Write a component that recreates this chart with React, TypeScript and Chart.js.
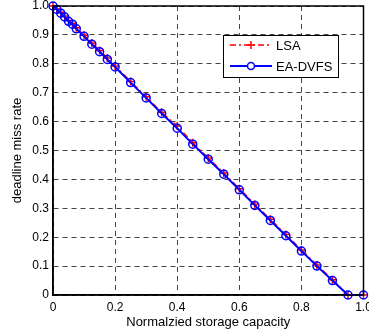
import React, { useEffect, useRef } from "react";
import { Chart, registerables } from "chart.js";

Chart.register(...registerables);

const xValues = [0, 0.0125, 0.025, 0.0375, 0.05, 0.0625, 0.075, 0.1, 0.125, 0.15, 0.175, 0.2, 0.25, 0.3, 0.35, 0.4, 0.45, 0.5, 0.55, 0.6, 0.65, 0.7, 0.75, 0.8, 0.85, 0.9, 0.95, 1.0];
const eaDvfs = [1.0, 0.988, 0.975, 0.962, 0.947, 0.937, 0.921, 0.895, 0.868, 0.842, 0.815, 0.789, 0.735, 0.682, 0.628, 0.577, 0.522, 0.47, 0.418, 0.364, 0.31, 0.258, 0.205, 0.152, 0.1, 0.05, 0, 0];
const lsa = [1.0, 0.99, 0.978, 0.965, 0.95, 0.94, 0.925, 0.899, 0.872, 0.846, 0.82, 0.792, 0.739, 0.686, 0.632, 0.585, 0.527, 0.474, 0.422, 0.368, 0.314, 0.262, 0.209, 0.156, 0.104, 0.053, 0, 0];
const seriesNames = ["LSA", "EA-DVFS"];
const xTitle = "Normalzied storage capacity";
const yTitle = "deadline miss rate";

const FONT = "'Liberation Sans', Arial, sans-serif";

const boxPlugin = {
  id: "boxAndLegend",
  afterDraw(chart: any) {
    const { ctx, chartArea } = chart;
    const { left, right, top, bottom } = chartArea;
    ctx.save();
    ctx.strokeStyle = "#000";
    ctx.lineWidth = 1.5;
    ctx.setLineDash([]);
    ctx.strokeRect(left, top, right - left, bottom - top);

    // legend
    const lx = 223, ly = 35, lw = 115, lh = 42;
    ctx.fillStyle = "#fff";
    ctx.fillRect(lx, ly, lw, lh);
    ctx.lineWidth = 1;
    ctx.strokeRect(lx + 0.5, ly + 0.5, lw, lh);

    // LSA entry
    const y1 = 45;
    ctx.strokeStyle = "#ff0000";
    ctx.lineWidth = 1.5;
    ctx.setLineDash([6, 3, 2, 3]);
    ctx.beginPath();
    ctx.moveTo(230, y1);
    ctx.lineTo(272, y1);
    ctx.stroke();
    ctx.setLineDash([]);
    ctx.beginPath();
    ctx.moveTo(251, y1 - 4);
    ctx.lineTo(251, y1 + 4);
    ctx.moveTo(247, y1);
    ctx.lineTo(255, y1);
    ctx.stroke();

    // EA-DVFS entry
    const y2 = 66;
    ctx.strokeStyle = "#0000ff";
    ctx.lineWidth = 2;
    ctx.beginPath();
    ctx.moveTo(230, y2);
    ctx.lineTo(272, y2);
    ctx.stroke();
    ctx.lineWidth = 1.5;
    ctx.fillStyle = "#fff";
    ctx.beginPath();
    ctx.arc(251, y2, 3.5, 0, Math.PI * 2);
    ctx.fill();
    ctx.stroke();

    ctx.fillStyle = "#000";
    ctx.font = `13px ${FONT}`;
    ctx.textBaseline = "middle";
    ctx.textAlign = "left";
    ctx.fillText(seriesNames[0], 276, y1 + 1);
    ctx.fillText(seriesNames[1], 276, y2 + 1);
    ctx.restore();
  },
};

export default function App() {
  const canvasRef = useRef<HTMLCanvasElement | null>(null);

  useEffect(() => {
    document.body.style.margin = "0";
    const canvas = canvasRef.current;
    if (!canvas) return;
    const chart = new Chart(canvas, {
      type: "line",
      data: {
        datasets: [
          {
            label: seriesNames[1],
            data: xValues.map((x, i) => ({ x, y: eaDvfs[i] })),
            borderColor: "#0000ff",
            backgroundColor: "rgba(0,0,0,0)",
            borderWidth: 2,
            pointStyle: "circle",
            pointRadius: 4,
            pointBorderWidth: 1.5,
            pointBorderColor: "#0000ff",
            pointBackgroundColor: "rgba(0,0,0,0)",
            tension: 0,
          },
          {
            label: seriesNames[0],
            data: xValues.map((x, i) => ({ x, y: lsa[i] })),
            borderColor: "#ff0000",
            backgroundColor: "rgba(0,0,0,0)",
            borderWidth: 1.5,
            borderDash: [6, 3, 2, 3],
            pointStyle: "cross",
            pointRadius: 4,
            pointBorderWidth: 1.5,
            pointBorderColor: "#ff0000",
            tension: 0,
          },
        ],
      },
      options: {
        animation: false,
        responsive: false,
        clip: false,
        layout: { padding: { left: 0, top: 6, right: 2, bottom: 0 } },
        plugins: {
          legend: { display: false },
          tooltip: { enabled: false },
        },
        scales: {
          x: {
            type: "linear",
            min: 0,
            max: 1,
            ticks: {
              stepSize: 0.2,
              color: "#000",
              font: { family: FONT, size: 12 },
              padding: 5,
              maxRotation: 0,
            },
            grid: { color: "#444", lineWidth: 1, drawTicks: false },
            border: { display: true, color: "#000", width: 1.5, dash: [5, 4] },
            title: {
              display: true,
              text: xTitle,
              color: "#000",
              font: { family: FONT, size: 13 },
              padding: { top: 2, bottom: 4 },
            },
            afterFit(scale: any) {
              scale.height = 39;
              scale.paddingLeft = 0;
              scale.paddingRight = 0;
            },
          },
          y: {
            type: "linear",
            min: 0,
            max: 1,
            ticks: {
              stepSize: 0.1,
              color: "#000",
              font: { family: FONT, size: 12 },
              padding: 4,
            },
            grid: { color: "#444", lineWidth: 1, drawTicks: false },
            border: { display: true, color: "#000", width: 1.5, dash: [5, 4] },
            title: {
              display: true,
              text: yTitle,
              color: "#000",
              font: { family: FONT, size: 13 },
              padding: { top: 10, bottom: 0 },
            },
            afterFit(scale: any) {
              scale.width = 53;
              scale.paddingTop = 0;
              scale.paddingBottom = 0;
            },
          },
        },
      },
      plugins: [boxPlugin],
    });
    return () => chart.destroy();
  }, []);

  return (
    <div style={{ position: "absolute", left: 0, top: 0, width: 369, height: 334, background: "#fff" }}>
      <canvas ref={canvasRef} width={369} height={334} style={{ width: 369, height: 334 }} />
    </div>
  );
}
